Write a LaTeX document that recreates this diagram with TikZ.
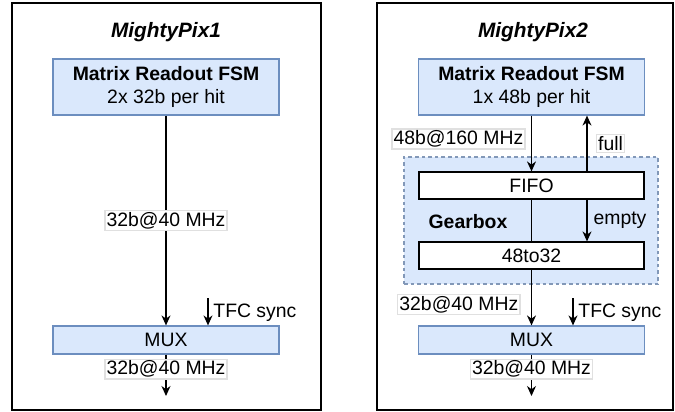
\documentclass[tikz,border=0pt]{standalone}
\usepackage{fontspec}
\setmainfont{Liberation Sans}
\usetikzlibrary{arrows.meta}
\definecolor{boxfill}{HTML}{DAE8FC}
\definecolor{boxline}{HTML}{6C8EBF}
\definecolor{gearline}{HTML}{8298B8}
\newcommand{\muxRate}[0]{32b@40 MHz}

\begin{document}
\begin{tikzpicture}[x=0.5pt, y=-0.5pt, font=\fontsize{9.7}{11.6}\selectfont]
  \tikzset{block/.style={draw=boxline, fill=boxfill, line width=0.6pt, inner sep=0pt, minimum width=113pt},
           fsmblock/.style={block, minimum height=28pt, align=center},
           muxblock/.style={block, minimum height=14pt},
           stageblock/.style={draw=black, fill=white, line width=0.6pt, inner sep=0pt, minimum width=112.5pt, minimum height=13.5pt},
           gearblock/.style={draw=gearline, fill=boxfill, dash pattern=on 1.8pt off 1.5pt, line width=0.6pt, minimum width=127pt, minimum height=63.5pt},
           rate/.style={fill=white, draw=black!12, inner sep=0.8pt},
           frame/.style={draw=black, line width=0.6pt},
           chiptitle/.style={font=\fontsize{10.4}{12.5}\selectfont\bfseries\itshape},
           flow/.style={-{Stealth[length=5pt, width=4.5pt]}, line width=0.6pt}}
  \useasboundingbox (0,0) rectangle (675,412);
  \draw[frame] (12,3) rectangle (321,410);
  \draw[frame] (377,3) rectangle (673,410);

  \node[chiptitle] (titleA) at (166,32) {MightyPix1};
  \node[fsmblock] (fsmA) at (166,87) {\textbf{Matrix Readout FSM}\\2x 32b per hit};
  \node[muxblock] (muxA) at (166,340) {MUX};
  \coordinate (tfcA) at (208,298);
  \coordinate (outA) at (166,396);
  \draw[flow] (fsmA) -- node[rate]{\muxRate} (muxA);
  \draw[flow] (tfcA) -- (tfcA |- muxA.north);
  \node[anchor=west, inner sep=0pt] (tfcAtext) at (213,313) {TFC sync};
  \draw[flow] (muxA) -- node[rate, pos=0.35]{\muxRate} (outA);

  \node[chiptitle] (titleB) at (533,32) {MightyPix2};
  \node[gearblock] (gear) at (531,220.5) {};
  \node[fsmblock] (fsmB) at (531.5,87) {\textbf{Matrix Readout FSM}\\1x 48b per hit};
  \node[stageblock] (fifo) at (531.5,185.5) {FIFO};
  \node[stageblock] (conv) at (531.5,255.5) {48to32};
  \node[muxblock] (muxB) at (531.5,340) {MUX};
  \node[font=\fontsize{9.7}{11.6}\selectfont\bfseries] (gearText) at (468,222) {Gearbox};
  \coordinate (sideB) at (587,157);
  \coordinate (tfcB) at (573,298);
  \coordinate (outB) at (531.5,396);
  \draw[flow] (fsmB) -- node[rate, anchor=east, pos=0.42, xshift=-3pt]{48b@160 MHz} (fifo);
  \draw[flow] (fifo.north -| sideB) -- node[rate, anchor=west, xshift=4.5pt]{full} (fsmB.south -| sideB);
  \draw[line width=0.6pt] (fifo) -- (conv);
  \draw[flow] (fifo.south -| sideB) -- node[anchor=west, inner sep=0pt, xshift=3pt]{empty} (conv.north -| sideB);
  \draw[flow] (conv) -- node[rate, anchor=east, pos=0.63, xshift=-5.5pt]{\muxRate} (muxB);
  \draw[flow] (tfcB) -- (tfcB |- muxB.north);
  \node[anchor=west, inner sep=0pt] (tfcBtext) at (578,313) {TFC sync};
  \draw[flow] (muxB) -- node[rate, pos=0.35]{\muxRate} (outB);
\end{tikzpicture}
\end{document}
